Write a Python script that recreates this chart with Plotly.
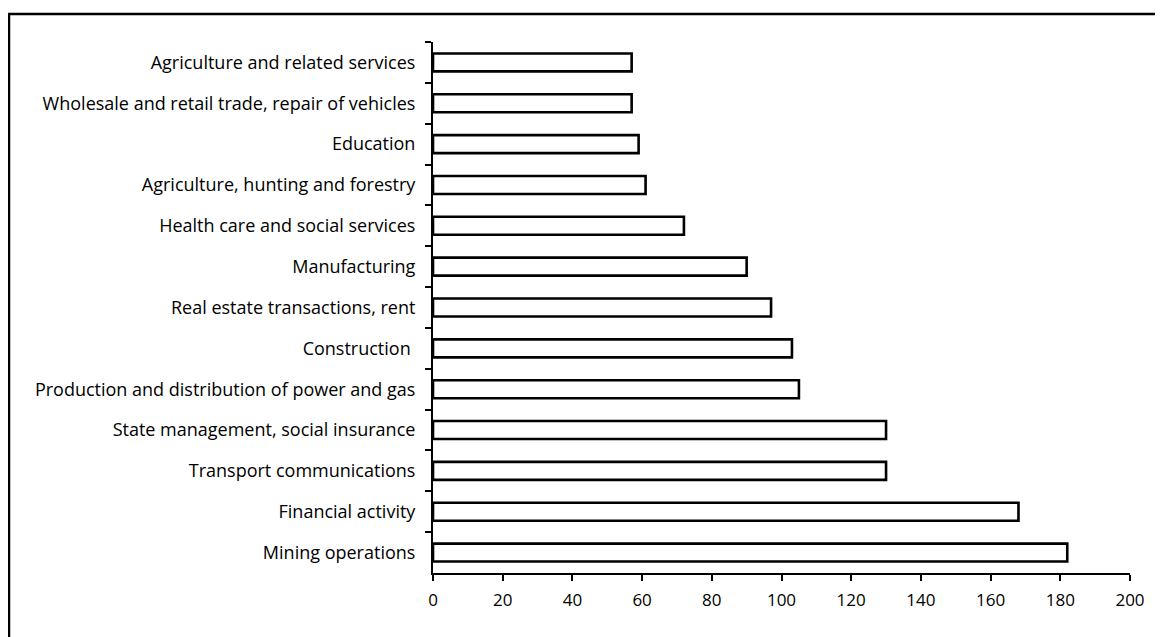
import plotly.graph_objects as go

categories = [
    "Agriculture and related services",
    "Wholesale and retail trade, repair of vehicles",
    "Education",
    "Agriculture, hunting and forestry",
    "Health care and social services",
    "Manufacturing",
    "Real estate transactions, rent",
    "Construction ",
    "Production and distribution of power and gas",
    "State management, social insurance",
    "Transport communications",
    "Financial activity",
    "Mining operations",
]
values = [57, 57, 59, 61, 72, 90, 97, 103, 105, 130, 130, 168, 182]
x_ticks = [0, 20, 40, 60, 80, 100, 120, 140, 160, 180, 200]

# page body has an 8px margin, so the figure sits at (8, 8)
OFF = 8
W, H = 1163 - OFF, 637 - OFF
ml, mt = 433 - OFF, 42 - OFF
mr = W - (1130 - OFF)
mb = H - (573 - OFF)
pw, ph = W - ml - mr, H - mt - mb

fig = go.Figure(
    go.Bar(
        x=values,
        y=categories,
        orientation="h",
        marker=dict(color="white", line=dict(color="black", width=2.6)),
        width=0.44,
    )
)

fig.update_layout(
    width=W,
    height=H,
    margin=dict(l=ml, r=mr, t=mt, b=mb, pad=0),
    paper_bgcolor="white",
    plot_bgcolor="white",
    showlegend=False,
    font=dict(family="Open Sans, Noto Sans, sans-serif", size=18, color="black"),
    xaxis=dict(
        range=[0, 200],
        tickvals=x_ticks,
        ticktext=[str(t) for t in x_ticks],
        showgrid=False,
        zeroline=False,
        showline=True,
        linecolor="black",
        linewidth=2,
        ticks="outside",
        ticklen=6,
        tickwidth=2,
        tickcolor="black",
        tickfont=dict(size=17),
        ticklabelstandoff=5,
    ),
    yaxis=dict(
        type="category",
        categoryorder="array",
        categoryarray=categories,
        range=[len(categories) - 0.5, -0.5],
        showgrid=False,
        zeroline=False,
        showline=True,
        linecolor="black",
        linewidth=2,
        ticks="outside",
        tickson="boundaries",
        ticklen=6,
        tickwidth=2,
        tickcolor="black",
        tickfont=dict(size=18),
        ticklabelstandoff=12,
    ),
    shapes=[
        dict(
            type="rect",
            xref="paper",
            yref="paper",
            x0=(9 - OFF - ml) / pw,
            x1=(W + 30 - ml) / pw,
            y0=((H - mb) - (H + 30)) / ph,
            y1=((H - mb) - (14 - OFF)) / ph,
            line=dict(color="black", width=2.5),
            fillcolor="rgba(0,0,0,0)",
            layer="below",
        )
    ],
)

fig.write_html("out.html")
